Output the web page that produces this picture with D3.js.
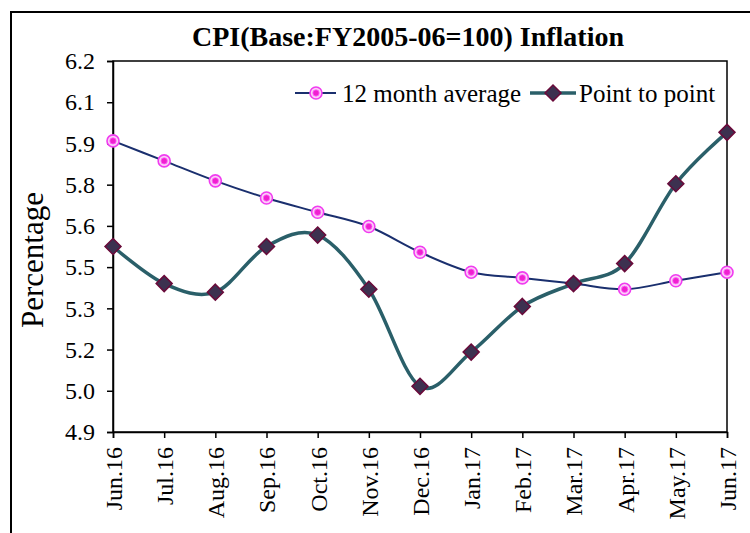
<!DOCTYPE html>
<html>
<head>
<meta charset="utf-8">
<script src="https://cdn.jsdelivr.net/npm/d3@7/dist/d3.min.js"></script>
<style>
  html, body { margin: 0; padding: 0; background: #fff; }
  svg { display: block; }
  text { font-family: "Liberation Serif", "Times New Roman", serif; fill: #000; }
</style>
</head>
<body>
<svg id="chart" width="750" height="533"></svg>
<script>
const months = ["Jun.16","Jul.16","Aug.16","Sep.16","Oct.16","Nov.16","Dec.16","Jan.17","Feb.17","Mar.17","Apr.17","May.17","Jun.17"];
const avg12 = [5.92, 5.85, 5.78, 5.72, 5.67, 5.62, 5.53, 5.46, 5.44, 5.42, 5.40, 5.43, 5.46];
const pointToPoint = [5.55, 5.42, 5.39, 5.55, 5.59, 5.40, 5.06, 5.18, 5.34, 5.42, 5.49, 5.77, 5.95];
const yDomain = [4.9, 6.2];
const yTickCount = 10;
const seriesNames = ["12 month average", "Point to point"];
const titleText = "CPI(Base:FY2005-06=100) Inflation";
const yTitle = "Percentage";

const svg = d3.select("#chart");
const m = { left: 113, right: 727, top: 61, bottom: 432 };

// outer border
svg.append("rect").attr("x", 11).attr("y", 12).attr("width", 780).attr("height", 560)
  .attr("fill", "none").attr("stroke", "#000").attr("stroke-width", 2);

const x = d3.scalePoint().domain(months).range([m.left, m.right]);
const y = d3.scaleLinear().domain(yDomain).range([m.bottom, m.top]);
const yTicks = d3.range(yTickCount).map(i => yDomain[0] + i * (yDomain[1] - yDomain[0]) / (yTickCount - 1));

// plot frame
svg.append("rect").attr("x", m.left).attr("y", m.top)
  .attr("width", m.right - m.left).attr("height", m.bottom - m.top)
  .attr("fill", "none").attr("stroke", "#000").attr("stroke-width", 1.5);

// y axis
const yAxis = svg.append("g").attr("transform", `translate(${m.left},0)`)
  .call(d3.axisLeft(y).tickValues(yTicks).tickFormat(d3.format(".1f")).tickSize(6).tickPadding(12));
yAxis.select(".domain").attr("stroke", "#000").attr("stroke-width", 1.5);
yAxis.selectAll(".tick line").attr("stroke", "#000").attr("stroke-width", 1.5);
yAxis.selectAll(".tick text").attr("font-size", 24).attr("font-family", "Liberation Serif").attr("fill", "#000");

// x axis
const xAxis = svg.append("g").attr("transform", `translate(0,${m.bottom})`)
  .call(d3.axisBottom(x).tickSize(6));
xAxis.select(".domain").attr("stroke", "#000").attr("stroke-width", 1.5);
xAxis.selectAll(".tick line").attr("stroke", "#000").attr("stroke-width", 1.5);
xAxis.selectAll(".tick text")
  .attr("font-size", 24).attr("font-family", "Liberation Serif").attr("fill", "#000")
  .attr("transform", "rotate(-90)")
  .attr("text-anchor", "end")
  .attr("x", -15).attr("y", 0).attr("dy", "0.35em");

// title
svg.append("text").attr("x", 408).attr("y", 46).attr("text-anchor", "middle")
  .attr("font-size", 28).attr("font-weight", "bold").text(titleText);

// y title
svg.append("text").attr("transform", "translate(43,260) rotate(-90)")
  .attr("text-anchor", "middle").attr("font-size", 31).text(yTitle);

const line = d3.line().x((d, i) => x(months[i])).y(d => y(d)).curve(d3.curveCardinal.tension(0));

// 12 month average
svg.append("path").datum(avg12).attr("d", line)
  .attr("fill", "none").attr("stroke", "#1a2f6e").attr("stroke-width", 2);
// point to point
svg.append("path").datum(pointToPoint).attr("d", line)
  .attr("fill", "none").attr("stroke", "#2a5f69").attr("stroke-width", 3.5);

function circleMarker(g, cx, cy) {
  g.append("circle").attr("cx", cx).attr("cy", cy).attr("r", 6)
    .attr("fill", "#fbd0f6").attr("stroke", "#f03cf0").attr("stroke-width", 1.6);
  g.append("circle").attr("cx", cx).attr("cy", cy).attr("r", 3.2)
    .attr("fill", "#f020d0").attr("stroke", "#ff66ff").attr("stroke-width", 0.8);
}
function diamondMarker(g, cx, cy) {
  const s = 8;
  g.append("path").attr("d", `M${cx},${cy - s}L${cx + s},${cy}L${cx},${cy + s}L${cx - s},${cy}Z`)
    .attr("fill", "#3d3150").attr("stroke", "#6a0a3a").attr("stroke-width", 1.5);
}

const g1 = svg.append("g");
avg12.forEach((v, i) => circleMarker(g1, x(months[i]), y(v)));
const g2 = svg.append("g");
pointToPoint.forEach((v, i) => diamondMarker(g2, x(months[i]), y(v)));

// legend
const lg = svg.append("g");
const ly = 93;
lg.append("line").attr("x1", 295).attr("x2", 336).attr("y1", ly).attr("y2", ly)
  .attr("stroke", "#1a2f6e").attr("stroke-width", 2);
circleMarker(lg, 316, ly);
lg.append("text").attr("x", 342).attr("y", ly).attr("dy", "0.35em").attr("font-size", 25).text(seriesNames[0]);
lg.append("line").attr("x1", 530).attr("x2", 576).attr("y1", ly).attr("y2", ly)
  .attr("stroke", "#2a5f69").attr("stroke-width", 3.5);
diamondMarker(lg, 553, ly);
lg.append("text").attr("x", 579).attr("y", ly).attr("dy", "0.35em").attr("font-size", 25).text(seriesNames[1]);
</script>
</body>
</html>
